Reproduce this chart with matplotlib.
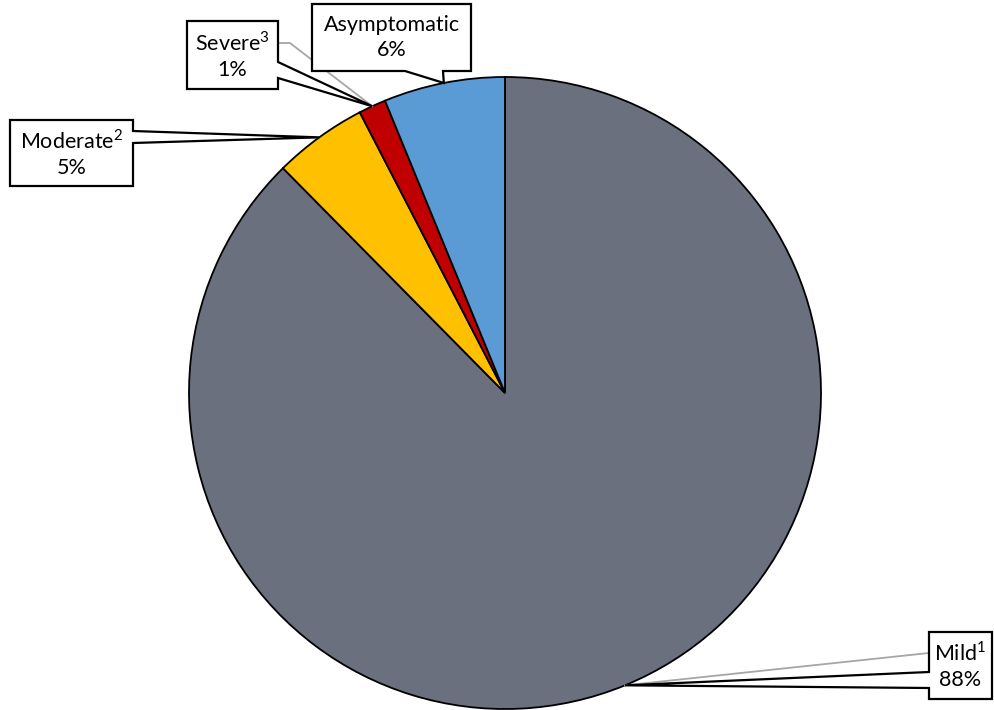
import matplotlib.pyplot as plt
from matplotlib.patches import Polygon
import numpy as np

plt.rcParams['font.family'] = ['Lato', 'DejaVu Sans']
plt.rcParams['mathtext.fontset'] = 'custom'
plt.rcParams['mathtext.rm'] = 'Lato'

labels = [r'Mild$^{\mathrm{1}}$', r'Moderate$^{\mathrm{2}}$',
          r'Severe$^{\mathrm{3}}$', 'Asymptomatic']
values = [87.6, 4.8, 1.4, 6.2]
colors = ['#6A707E', '#FFC000', '#C00000', '#5B9BD5']

W, H = 995, 710
cx, cy, R = 505, 393, 316   # pie centre / radius in pixels (y from top)

fig = plt.figure(figsize=(W / 100, H / 100), dpi=100)
ax = fig.add_axes([0, 0, 1, 1])

wedges, _ = ax.pie(values, colors=colors, startangle=90, counterclock=False,
                   center=(cx, H - cy), radius=R,
                   wedgeprops=dict(edgecolor='black', linewidth=1.3))
ax.set_xlim(0, W)
ax.set_ylim(0, H)
ax.set_aspect('equal')
ax.axis('off')

def Y(y):
    return H - y

# callout boxes: (x0, y0, x1, y1), side of the tail, tail base, grey leader start
boxes = [
    ((929, 632, 992, 699), 'left', (672, 688), [(929, 653)]),
    ((10, 120, 133, 186), 'right', (131, 143), None),
    ((187, 21, 278, 89), 'right', (62, 78), [(278, 43), (290, 43)]),
    ((312, 4, 471, 71), 'bottom', (405, 443), None),
]

for w, lab, v, (box, side, base, leader) in zip(wedges, labels, values, boxes):
    mid = np.deg2rad((w.theta1 + w.theta2) / 2)
    tx = cx + R * np.cos(mid)
    ty = cy - R * np.sin(mid)
    x0, y0, x1, y1 = box
    b1, b2 = base
    if side == 'right':
        pts = [(x0, y0), (x1, y0), (x1, b1), (tx, ty), (x1, b2), (x1, y1), (x0, y1)]
    elif side == 'left':
        pts = [(x0, y0), (x1, y0), (x1, y1), (x0, y1), (x0, b2), (tx, ty), (x0, b1)]
    else:
        pts = [(x0, y0), (x1, y0), (x1, y1), (b2, y1), (tx, ty), (b1, y1), (x0, y1)]
    if leader:
        lp = leader + [(tx, ty)]
        ax.plot([p[0] for p in lp], [Y(p[1]) for p in lp], color='#A6A6A6',
                lw=1.3, zorder=3)
    ax.add_patch(Polygon([(p[0], Y(p[1])) for p in pts], closed=True,
                         facecolor='white', edgecolor='black', lw=1.6, zorder=4))
    ax.text((x0 + x1) / 2, Y((y0 + y1) / 2), f"{lab}\n{v:.0f}%", ha='center',
            va='center', fontsize=15.5, linespacing=1.35, zorder=5)

fig.savefig('out.png', dpi=100)
